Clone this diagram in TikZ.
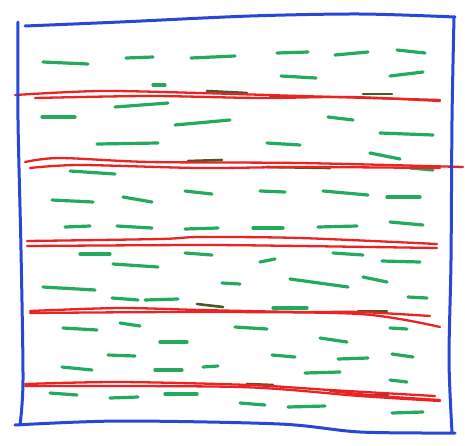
\documentclass[tikz,border=0pt]{standalone}
\definecolor{penblue}{RGB}{40,70,215}
\definecolor{penred}{RGB}{235,35,35}
\definecolor{pengreen}{RGB}{35,170,95}
\definecolor{pendark}{RGB}{70,90,40}
\tikzset{
  boxline/.style={draw=penblue,line width=3pt,line cap=round,line join=round},
  redline/.style={draw=penred,line width=2.3pt,line cap=round},
  greendash/.style={draw=pengreen,line width=3.2pt,line cap=round},
  darkdash/.style={draw=pendark,line width=2.6pt,line cap=round}
}
\begin{document}
\begin{tikzpicture}[x=1pt,y=-1pt]
\useasboundingbox (0,0) rectangle (465,445);
% green dashes
\foreach \a/\b/\c/\d in {
43/62/88/64, 126/58/153/57, 191/58/235/56, 277/53/308/52, 335/55/368/52, 397/50/425/53,
281/76/316/78, 390/76/423/72, 153/85/165/85,
42/117/75/117, 115/107/168/103, 175/125/230/120, 328/117/353/120, 380/133/433/135,
97/144/158/143, 267/143/300/145,
370/153/400/159, 70/171/115/174, 410/168/433/170,
52/200/93/202, 123/197/152/202, 185/191/212/194, 260/191/285/192, 323/191/368/195, 387/197/420/197,
65/227/90/226, 117/226/152/228, 185/229/218/228, 253/228/283/228, 318/227/357/226, 390/222/423/225,
80/254/110/254, 185/253/212/255, 333/253/363/255,
113/264/158/267, 260/262/275/259, 382/261/420/262,
43/287/95/290, 222/283/240/284, 290/279/348/287, 363/277/387/282,
112/298/138/300, 145/300/178/299, 408/297/427/298, 273/308/307/308,
63/328/97/330, 120/323/140/326, 235/327/267/329, 390/328/407/329,
160/342/187/342, 320/338/347/342,
108/355/135/356, 272/355/295/357, 338/359/368/358, 392/354/413/357,
62/367/92/370, 155/370/182/370, 203/367/218/366, 305/373/340/372, 390/380/407/382,
50/393/77/395, 110/398/138/397, 165/394/197/394,
240/403/265/405, 288/407/325/406, 392/413/423/412}
  \draw[greendash] (\a,\b) -- (\c,\d);
% dark strokes under red lines
\foreach \a/\b/\c/\d in {
207/91/247/93, 270/97/300/97, 363/94/392/94,
188/161/222/160, 267/167/330/168,
197/304/223/307, 358/311/387/311,
247/384/273/385, 362/395/388/395}
  \draw[darkdash] (\a,\b) -- (\c,\d);
% red double lines
\draw[redline] plot[smooth] coordinates {(15,95) (100,91) (200,93) (300,96) (440,100)};
\draw[redline] plot[smooth] coordinates {(35,98) (150,96) (260,98) (350,97) (440,101)};
\draw[redline] plot[smooth] coordinates {(25,162) (60,158) (150,162) (300,163) (463,167)};
\draw[redline] plot[smooth] coordinates {(30,168) (80,165) (200,168) (300,167) (440,168)};
\draw[redline] plot[smooth] coordinates {(27,241) (160,239) (200,237) (300,238) (437,244)};
\draw[redline] plot[smooth] coordinates {(27,246) (200,245) (300,246) (437,248)};
\draw[redline] plot[smooth] coordinates {(30,311) (120,308) (200,310) (300,312) (360,312) (430,316)};
\draw[redline] plot[smooth] coordinates {(30,313) (200,312) (360,314) (440,327)};
\draw[redline] plot[smooth] coordinates {(25,384) (120,382) (250,385) (330,390) (435,396)};
\draw[redline] plot[smooth] coordinates {(25,386) (240,387) (360,396) (440,401)};
\draw[redline] plot[smooth] coordinates {(330,391) (380,396) (440,400)};
% blue box
\draw[boxline] plot[smooth] coordinates {(25,26) (120,22) (250,16) (360,14) (455,17)};
\draw[boxline] plot[smooth] coordinates {(454,17) (452,120) (451,260) (449,360) (452,432)};
\draw[boxline] plot[smooth] coordinates {(15,425) (120,421) (280,424) (360,432) (455,433)};
\draw[boxline] plot[smooth] coordinates {(18,22) (18,120) (21,250) (23,380) (20,425)};
\end{tikzpicture}
\end{document}
